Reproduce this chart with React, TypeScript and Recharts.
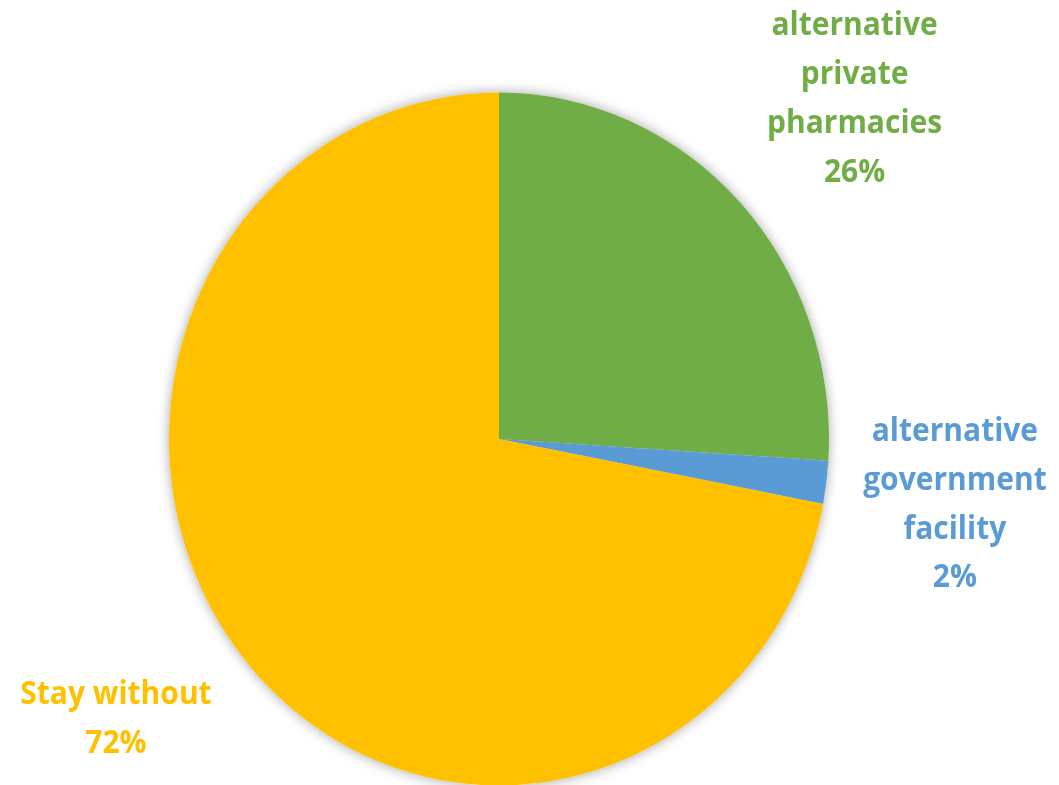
import { PieChart, Pie, Cell } from "recharts";

const categories = [
  ["alternative", "private", "pharmacies"],
  ["alternative", "government", "facility"],
  ["Stay without"],
];
const shares = [26, 2, 72];
const colors = ["#70AD47", "#5B9BD5", "#FFC000"];
// small nudges so the label blocks sit where the original placed them
const labelNudge = [
  [14, -2],
  [-9, 5],
  [-22, -31],
];

const data = categories.map((lines, i) => ({ name: lines.join(" "), value: shares[i] }));

const RAD = Math.PI / 180;
const LINE = 46.5;

function renderLabel(props: any) {
  const { cx, cy, midAngle, outerRadius, index } = props;
  const r = outerRadius * 1.42;
  const x = cx + r * Math.cos(-midAngle * RAD) + labelNudge[index][0];
  const y = cy + r * Math.sin(-midAngle * RAD) + labelNudge[index][1];
  const lines = [...categories[index], `${shares[index]}%`];
  const top = y - ((lines.length - 1) / 2) * LINE;
  return (
    <text
      key={`lbl-${index}`}
      x={x}
      y={top}
      fill={colors[index]}
      textAnchor="middle"
      dominantBaseline="middle"
      fontFamily="'Open Sans', sans-serif"
      fontWeight={700}
      fontSize={30}
    >
      {lines.map((t, i) => (
        <tspan key={i} x={x} y={top + i * LINE}>
          {t}
        </tspan>
      ))}
    </text>
  );
}

export default function App() {
  return (
    <div style={{ width: 1059, height: 785, overflow: "hidden", background: "#fff" }}>
      <style>{`body{margin:0}.pie-shadow .recharts-pie-sector{filter:drop-shadow(0 0 6px rgba(0,0,0,0.35))}`}</style>
      <div style={{ transform: "scaleY(1.05)", transformOrigin: "0 439px" }}>
        <PieChart width={1059} height={785} margin={{ top: 0, right: 0, bottom: 0, left: 0 }}>
          {/* soft outer shadow, covered by the real pie */}
          <Pie
            className="pie-shadow"
            data={data}
            dataKey="value"
            cx={499}
            cy={439}
            outerRadius={330}
            startAngle={90}
            endAngle={-270}
            stroke="none"
            fill="#ffffff"
            label={false}
            labelLine={false}
            isAnimationActive={false}
          />
          <Pie
            data={data}
            dataKey="value"
            nameKey="name"
            cx={499}
            cy={439}
            outerRadius={330}
            startAngle={90}
            endAngle={-270}
            stroke="none"
            label={renderLabel}
            labelLine={false}
            isAnimationActive={false}
          >
            {data.map((d, i) => (
              <Cell key={d.name + i} fill={colors[i]} />
            ))}
          </Pie>
        </PieChart>
      </div>
    </div>
  );
}
